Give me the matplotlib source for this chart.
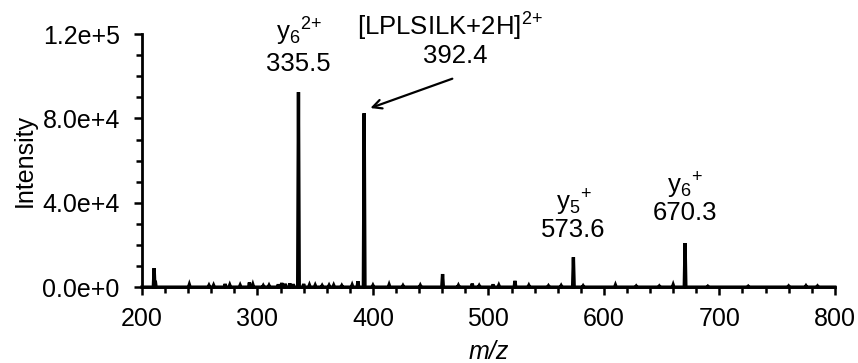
import matplotlib
matplotlib.use('Agg')
import matplotlib.pyplot as plt
import numpy as np
from matplotlib.ticker import MultipleLocator, FuncFormatter

plt.rcParams['font.family'] = ['Liberation Sans', 'DejaVu Sans']
plt.rcParams['mathtext.fontset'] = 'custom'
plt.rcParams['mathtext.rm'] = 'Liberation Sans'
plt.rcParams['mathtext.it'] = 'Liberation Sans:italic'

# peak list (m/z, intensity)
mz = [210.5, 211.5, 241, 258, 262, 272, 276, 285, 293, 296, 305, 310, 318, 321, 324,
      328, 331, 335.5, 340, 345, 350, 356, 362, 366, 373, 382, 387, 392.4, 400,
      414, 426, 441, 460.3, 474, 486, 492, 504, 509, 523, 535, 552, 563, 573.6,
      582, 610, 628, 648, 660, 670.3, 690, 725, 760, 775, 785]
intensity = [9000, 3000, 1200, 800, 900, 1500, 1000, 900, 2200, 1200, 700, 800, 1300,
             2000, 1600, 1800, 1400, 92500, 1500, 1000, 900, 700, 800, 900, 700, 1000,
             2800, 82500, 800, 1100, 700, 800, 6200, 800, 1700, 700, 1300, 900, 3000,
             800, 600, 700, 14200, 600, 1000, 500, 500, 1100, 20900, 400, 400, 500,
             600, 500]

labels = [(335.5, 121000, r'$\mathregular{y_6{}^{2{+}}}$'), (335.5, 106000, '335.5'),
          (467, 123500, r'[LPLSILK+2H]$\mathregular{^{2{+}}}$'), (471, 109400, '392.4'),
          (573.6, 39800, r'$\mathregular{y_5{}^{+}}$'), (573.6, 27000, '573.6'),
          (670.3, 47900, r'$\mathregular{y_6{}^{+}}$'), (670.3, 35100, '670.3')]

# stick profile: each peak drawn as a narrow triangle on a flat baseline
xs, ys = [200], [0]
for m, h in sorted(zip(mz, intensity)):
    xs += [m - 0.7, m, m + 0.7]
    ys += [0, h, 0]
xs.append(800)
ys.append(0)

fig = plt.figure(figsize=(8.58, 3.63), dpi=100)
ax = fig.add_axes([0.1655, 0.209, 0.8075, 0.697])
ax.plot(xs, ys, color='black', lw=2.4, solid_joinstyle='miter', clip_on=False)

ax.set_xlim(200, 800)
ax.set_ylim(0, 120000)
ax.spines['top'].set_visible(False)
ax.spines['right'].set_visible(False)
for s in ('left', 'bottom'):
    ax.spines[s].set_linewidth(2)

ax.xaxis.set_major_locator(MultipleLocator(100))
ax.xaxis.set_minor_locator(MultipleLocator(20))
ax.yaxis.set_major_locator(MultipleLocator(40000))
ax.yaxis.set_minor_locator(MultipleLocator(10000))


def sci(v, pos):
    m, e = f'{v:.1e}'.split('e')
    return f'{m}e{int(e):+d}'


ax.yaxis.set_major_formatter(FuncFormatter(sci))
ax.tick_params(which='both', direction='out', width=1.8, labelsize=18)
ax.tick_params(which='major', length=6)
ax.tick_params(which='minor', length=4.5)
ax.tick_params(axis='x', which='major', pad=8)
ax.tick_params(axis='y', which='major', pad=10)

ax.set_xlabel('m/z', fontsize=18, style='italic', labelpad=7)
ax.set_ylabel('Intensity', fontsize=18, labelpad=4)

for x, y, t in labels:
    ax.text(x, y, t, ha='center', va='center', fontsize=18.5, clip_on=False)

ax.annotate('', xy=(395.5, 84500), xytext=(471, 99300),
            arrowprops=dict(arrowstyle='->', color='black', lw=1.6, mutation_scale=16))

fig.savefig('out.png', dpi=100)
